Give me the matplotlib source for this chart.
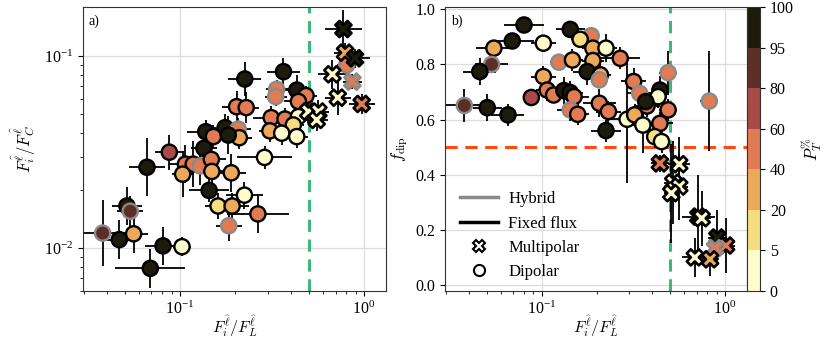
import numpy as np
import matplotlib
matplotlib.use('Agg')
import matplotlib.pyplot as plt
from matplotlib.colors import ListedColormap, BoundaryNorm
from matplotlib.lines import Line2D

plt.rcParams['font.family'] = 'serif'
plt.rcParams['font.serif'] = ['Liberation Serif', 'DejaVu Serif']
plt.rcParams['mathtext.fontset'] = 'cm'
plt.rcParams['font.size'] = 11.5

# colour scale (P_T %)
pt_bounds = [0, 5, 20, 40, 60, 80, 95, 100]
pt_colors = ['#fffccb', '#f6de80', '#eca95a', '#e07b54', '#a84a48', '#5c2e25', '#1d1c0c']

# ---------------- panel a data ----------------
# x = F_i/F_L, y = F_i/F_C, errors in dex, P_T (%), hybrid flag, multipolar flag
a_x = [0.773, 0.789, 0.893, 0.865, 0.673, 0.720, 0.971, 0.498, 0.565, 0.553,
       0.805, 0.225, 0.365, 0.335, 0.331, 0.431, 0.484, 0.440, 0.203, 0.229,
       0.313, 0.372, 0.440, 0.413, 0.308, 0.357, 0.431, 0.138, 0.176, 0.152,
       0.207, 0.210, 0.183, 0.0875, 0.135, 0.0662, 0.107, 0.118, 0.129, 0.148,
       0.1034, 0.149, 0.190, 0.288, 0.144, 0.224, 0.161, 0.192, 0.265, 0.184,
       0.0515, 0.0537, 0.0380, 0.0468, 0.0560, 0.0809, 0.1026, 0.0690]
a_y = [0.138, 0.104, 0.0973, 0.0736, 0.0803, 0.0607, 0.0563, 0.0514, 0.0514, 0.0465,
       0.0898, 0.0759, 0.0829, 0.0671, 0.0615, 0.0665, 0.0622, 0.0580, 0.0545, 0.0539,
       0.0478, 0.0470, 0.0484, 0.0438, 0.0408, 0.0397, 0.0381, 0.0404, 0.0424, 0.0381,
       0.0417, 0.0376, 0.0388, 0.0316, 0.0331, 0.0264, 0.0274, 0.0274, 0.0268, 0.0290,
       0.0243, 0.0251, 0.0247, 0.0297, 0.0200, 0.0189, 0.0166, 0.0166, 0.0151, 0.0131,
       0.0166, 0.0156, 0.0120, 0.0111, 0.0119, 0.0103, 0.0102, 0.00787]
a_xerr = [0.10, 0.06, 0.08, 0.05, 0.08, 0.07, 0.07, 0.06, 0.06, 0.06,
          0.05, 0.09, 0.09, 0.06, 0.06, 0.07, 0.06, 0.08, 0.08, 0.07,
          0.10, 0.08, 0.06, 0.06, 0.06, 0.06, 0.06, 0.10, 0.09, 0.07,
          0.07, 0.07, 0.09, 0.08, 0.07, 0.10, 0.09, 0.08, 0.08, 0.08,
          0.06, 0.07, 0.08, 0.15, 0.11, 0.10, 0.07, 0.09, 0.17, 0.07,
          0.08, 0.07, 0.15, 0.08, 0.08, 0.10, 0.05, 0.19]
a_yerr = [0.10, 0.05, 0.05, 0.04, 0.075, 0.09, 0.05, 0.06, 0.06, 0.06,
          0.05, 0.09, 0.07, 0.05, 0.05, 0.08, 0.05, 0.06, 0.08, 0.08,
          0.06, 0.06, 0.06, 0.06, 0.06, 0.06, 0.06, 0.06, 0.07, 0.06,
          0.06, 0.06, 0.10, 0.09, 0.07, 0.15, 0.10, 0.12, 0.10, 0.08,
          0.12, 0.08, 0.10, 0.06, 0.06, 0.07, 0.07, 0.07, 0.10, 0.08,
          0.10, 0.08, 0.17, 0.10, 0.10, 0.10, 0.05, 0.10]
a_pt = [98, 30, 98, 50, 2, 2, 50, 2, 2, 2,
        50, 98, 98, 50, 50, 98, 50, 50, 50, 50,
        50, 50, 2, 12, 30, 2, 2, 98, 98, 50,
        50, 30, 98, 70, 98, 98, 50, 50, 50, 50,
        30, 30, 30, 2, 98, 2, 12, 30, 50, 50,
        98, 88, 88, 98, 30, 98, 2, 98]
a_hyb = [0, 0, 0, 1, 0, 0, 0, 0, 0, 0,
         1, 0, 0, 1, 1, 0, 0, 0, 0, 0,
         0, 0, 0, 0, 0, 0, 0, 0, 0, 0,
         1, 0, 0, 0, 0, 0, 0, 0, 1, 0,
         0, 0, 0, 0, 0, 0, 0, 0, 0, 1,
         0, 1, 1, 0, 0, 0, 0, 0]
a_multi = [1] * 10 + [0] * 48

# ---------------- panel b data ----------------
# x = F_i/F_L, y = f_dip, x errors in dex, y errors linear
b_x = [0.441, 0.562, 0.521, 0.562, 0.509, 0.715, 0.745, 0.908, 1.012, 0.881, 0.684, 0.828,
       0.080, 0.143, 0.186, 0.162, 0.069, 0.102, 0.0548, 0.190, 0.224, 0.0532,
       0.0459, 0.124, 0.147, 0.190, 0.177, 0.209, 0.268, 0.102, 0.107, 0.116,
       0.0877, 0.132, 0.143, 0.150, 0.0378, 0.0504, 0.0654, 0.143, 0.157, 0.206,
       0.231, 0.224, 0.317, 0.342, 0.441, 0.431, 0.375, 0.489, 0.441, 0.292,
       0.321, 0.356, 0.413, 0.450, 0.489, 0.820, 0.369, 0.206]
b_y = [0.441, 0.438, 0.371, 0.357, 0.333, 0.248, 0.242, 0.172, 0.143, 0.133, 0.100, 0.093,
       0.943, 0.927, 0.904, 0.891, 0.885, 0.877, 0.859, 0.859, 0.859, 0.800,
       0.774, 0.808, 0.816, 0.814, 0.774, 0.762, 0.822, 0.756, 0.707, 0.689,
       0.680, 0.705, 0.698, 0.683, 0.651, 0.643, 0.617, 0.635, 0.619, 0.659,
       0.629, 0.560, 0.738, 0.695, 0.707, 0.683, 0.649, 0.635, 0.586, 0.601,
       0.617, 0.580, 0.538, 0.520, 0.770, 0.667, 0.665, 0.744]
b_xerr = [0.05, 0.06, 0.05, 0.05, 0.04, 0.09, 0.05, 0.05, 0.05, 0.03, 0.07, 0.05,
          0.11, 0.08, 0.04, 0.05, 0.12, 0.07, 0.10, 0.06, 0.06, 0.09,
          0.09, 0.05, 0.06, 0.06, 0.08, 0.06, 0.11, 0.07, 0.06, 0.06,
          0.04, 0.07, 0.07, 0.08, 0.10, 0.08, 0.09, 0.07, 0.06, 0.09,
          0.07, 0.08, 0.07, 0.07, 0.05, 0.05, 0.07, 0.05, 0.07, 0.10,
          0.05, 0.07, 0.05, 0.04, 0.05, 0.05, 0.05, 0.04]
b_yerr = [0.03, 0.10, 0.15, 0.12, 0.18, 0.15, 0.10, 0.10, 0.10, 0.03, 0.07, 0.06,
          0.03, 0.03, 0.02, 0.03, 0.03, 0.03, 0.03, 0.05, 0.05, 0.03,
          0.05, 0.02, 0.04, 0.04, 0.05, 0.04, 0.04, 0.04, 0.04, 0.03,
          0.03, 0.05, 0.04, 0.04, 0.06, 0.05, 0.04, 0.04, 0.04, 0.05,
          0.04, 0.04, 0.05, 0.04, 0.05, 0.04, 0.04, 0.04, 0.04, 0.23,
          0.04, 0.10, 0.04, 0.04, 0.08, 0.18, 0.05, 0.03]
b_pt = [50, 2, 2, 2, 2, 98, 2, 98, 50, 50, 2, 30,
        98, 98, 50, 12, 98, 2, 30, 30, 2, 88,
        98, 50, 30, 30, 98, 30, 50, 30, 50, 50,
        70, 98, 98, 50, 88, 98, 98, 50, 50, 50,
        50, 98, 50, 50, 98, 2, 50, 50, 50, 2,
        30, 2, 12, 2, 50, 50, 98, 50]
b_hyb = [0, 0, 0, 0, 0, 0, 0, 0, 0, 1, 0, 0,
         0, 0, 1, 0, 0, 0, 0, 0, 0, 1,
         0, 1, 0, 0, 0, 0, 0, 0, 0, 0,
         0, 0, 0, 0, 1, 0, 0, 1, 0, 0,
         0, 0, 0, 1, 0, 0, 0, 0, 0, 0,
         0, 0, 0, 0, 1, 1, 0, 1]
b_multi = [1] * 12 + [0] * 48

cmap = ListedColormap(pt_colors)
norm = BoundaryNorm(pt_bounds, cmap.N)

fig = plt.figure(figsize=(8.3, 3.43), dpi=100)
axa = fig.add_axes([0.0996, 0.1516, 0.365, 0.827])
axb = fig.add_axes([0.536, 0.1516, 0.3635, 0.827])
cax = fig.add_axes([0.9, 0.1516, 0.0157, 0.827])


def draw(ax, x, y, xe, ye, pt, hyb, multi, ylog):
    x = np.array(x); y = np.array(y); xe = np.array(xe); ye = np.array(ye)
    pt = np.array(pt); hyb = np.array(hyb); multi = np.array(multi)
    xlo = x - x * 10 ** (-xe)
    xhi = x * 10 ** xe - x
    if ylog:
        ylo = y - y * 10 ** (-ye)
        yhi = y * 10 ** ye - y
    else:
        ylo = ye; yhi = ye
    ax.errorbar(x, y, xerr=[xlo, xhi], yerr=[ylo, yhi], fmt='none',
                ecolor='black', elinewidth=1.3, capsize=0, zorder=2)
    edge = np.where(hyb == 1, '#8a8a8a', 'black')
    for m, mk, s, lw in [(0, 'o', 120, 1.7), (1, 'X', 135, 1.9)]:
        sel = multi == m
        ax.scatter(x[sel], y[sel], c=pt[sel], cmap=cmap, norm=norm, marker=mk,
                   s=s, edgecolors=list(edge[sel]), linewidths=lw, zorder=3 + m)


draw(axa, a_x, a_y, a_xerr, a_yerr, a_pt, a_hyb, a_multi, True)
draw(axb, b_x, b_y, b_xerr, b_yerr, b_pt, b_hyb, b_multi, False)

for ax in (axa, axb):
    ax.set_xscale('log')
    ax.set_xlim(0.0296, 1.31)
    ax.grid(True, which='major', color='#dddddd', lw=0.9, zorder=0)
    ax.set_axisbelow(True)
    ax.axvline(0.5, color='#3cb878', ls=(0, (4, 2.5)), lw=2.2, zorder=1)
    ax.set_xlabel(r'$F_i^{\widehat{\ell}}/F_L^{\widehat{\ell}}$', fontsize=11.5, labelpad=-3)
    for sp in ax.spines.values():
        sp.set_color('#333333')

axa.set_yscale('log')
axa.set_ylim(0.006, 0.179)
axa.set_ylabel(r'$F_i^{\widehat{\ell}}/F_C^{\widehat{\ell}}$', fontsize=12)
axa.text(0.02, 0.975, 'a)', transform=axa.transAxes, ha='left', va='top', fontsize=10)

axb.set_ylim(-0.022, 1.007)
axb.set_yticks([0.0, 0.2, 0.4, 0.6, 0.8, 1.0])
axb.axhline(0.5, color='#ff4a0f', ls=(0, (4, 2.5)), lw=2.2, zorder=1)
axb.set_ylabel(r'$f_{\rm dip}$', fontsize=12)
axb.text(0.02, 0.975, 'b)', transform=axb.transAxes, ha='left', va='top', fontsize=10)

handles = [Line2D([], [], color='#8a8a8a', lw=2.5),
           Line2D([], [], color='black', lw=2.5),
           Line2D([], [], ls='none', marker='X', markersize=8, markerfacecolor='white',
                  markeredgecolor='black', markeredgewidth=1.5),
           Line2D([], [], ls='none', marker='o', markersize=8, markerfacecolor='white',
                  markeredgecolor='black', markeredgewidth=1.5)]
axb.legend(handles, ['Hybrid', 'Fixed flux', 'Multipolar', 'Dipolar'], loc='lower left',
           frameon=False, fontsize=12, handlelength=2.3, labelspacing=0.5,
           handletextpad=0.6, bbox_to_anchor=(0.0, -0.015))

sm = plt.cm.ScalarMappable(cmap=cmap, norm=norm)
cb = fig.colorbar(sm, cax=cax, spacing='uniform', ticks=pt_bounds)
cb.set_ticklabels([str(b) for b in pt_bounds])
cb.set_label(r'$P_T^{\%}$', fontsize=12)
cb.outline.set_color('#333333')

fig.savefig('out.png', dpi=100)
